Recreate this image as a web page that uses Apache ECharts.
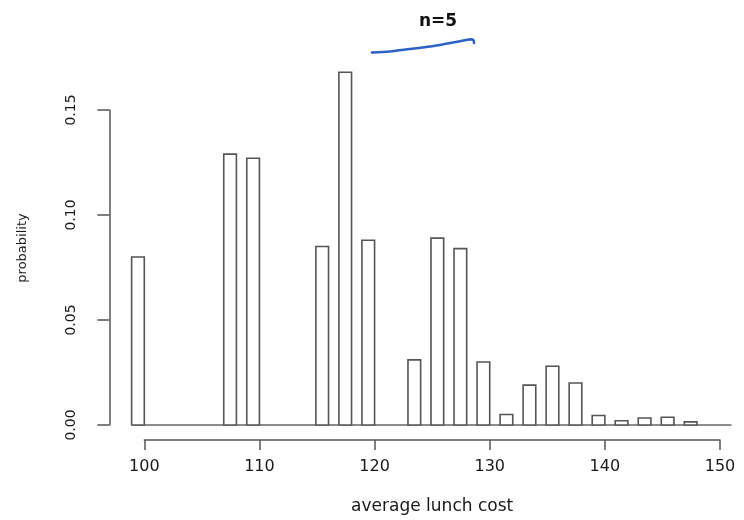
<!DOCTYPE html>
<html>
<head>
<meta charset="utf-8">
<script src="https://cdn.jsdelivr.net/npm/echarts@6/dist/echarts.min.js"></script>
<style>
html,body{margin:0;padding:0;background:#fff;}
#chart{width:744px;height:520px;}
</style>
</head>
<body>
<div id="chart"></div>
<script>
// Data
var costs = [100, 108, 110, 116, 118, 120, 124, 126, 128, 130, 132, 134, 136, 138, 140, 142, 144, 146, 148];
var probs = [0.080, 0.129, 0.127, 0.085, 0.168, 0.088, 0.031, 0.089, 0.084, 0.030, 0.005, 0.019, 0.028, 0.020, 0.0045, 0.002, 0.0033, 0.0037, 0.0015];
var xTicks = [100, 110, 120, 130, 140, 150];
var yTicks = [0.00, 0.05, 0.10, 0.15];
var baselineRange = [99, 151];
var barWidthUnits = 1.1;

var barData = costs.map(function (c, i) { return [c, probs[i]]; });

var chart = echarts.init(document.getElementById('chart'), null, {renderer: 'canvas'});
chart.setOption({
  backgroundColor: '#ffffff',
  animation: false,
  title: {
    text: 'n=5',
    left: 433,
    top: 8,
    textAlign: 'center',
    textStyle: {fontFamily: 'DejaVu Sans', fontSize: 17, fontWeight: 'bold', color: '#111'}
  },
  grid: {left: 144.3, right: 24, top: 110, bottom: 95, containLabel: false},
  xAxis: {
    type: 'value',
    min: xTicks[0],
    max: xTicks[xTicks.length - 1],
    interval: 10,
    offset: 15,
    name: 'average lunch cost',
    nameLocation: 'middle',
    nameGap: 58,
    nameTextStyle: {fontFamily: 'DejaVu Sans', fontSize: 17, color: '#1a1a1a'},
    axisLine: {show: true, onZero: false, lineStyle: {color: '#555', width: 1.5}},
    axisTick: {show: true, length: 10, lineStyle: {color: '#555', width: 1.5}},
    axisLabel: {margin: 19, fontFamily: 'DejaVu Sans', fontSize: 16, color: '#1a1a1a'},
    splitLine: {show: false}
  },
  yAxis: {
    type: 'value',
    min: yTicks[0],
    max: yTicks[yTicks.length - 1],
    interval: 0.05,
    offset: 35,
    axisLine: {show: true, onZero: false, lineStyle: {color: '#555', width: 1.5}},
    axisTick: {show: true, length: 12, lineStyle: {color: '#555', width: 1.5}},
    axisLabel: {
      rotate: 90, margin: 31,
      fontFamily: 'DejaVu Sans', fontSize: 14, color: '#1a1a1a',
      formatter: function (v) { return v.toFixed(2); }
    },
    splitLine: {show: false}
  },
  graphic: [
    {
      type: 'text',
      x: 23, y: 248,
      rotation: Math.PI / 2,
      style: {text: 'probability', fontFamily: 'DejaVu Sans', fontSize: 13, fill: '#1a1a1a', align: 'center', verticalAlign: 'middle'}
    },
    {
      type: 'polyline',
      shape: {points: [[372, 52.5], [390, 51.5], [410, 49], [430, 46.5], [446, 43.8], [460, 41.3], [470, 39.4], [473.5, 40.2], [474, 43]], smooth: 0.3},
      style: {stroke: '#2f62c6', lineWidth: 2.6, fill: null, lineCap: 'round'}
    }
  ],
  series: [
    {
      type: 'custom',
      clip: false,
      silent: true,
      data: [baselineRange],
      encode: {x: [0, 1]},
      z: 1,
      renderItem: function (params, api) {
        var a = api.coord([api.value(0), 0]);
        var b = api.coord([api.value(1), 0]);
        return {
          type: 'line',
          shape: {x1: a[0], y1: a[1], x2: b[0], y2: b[1]},
          style: {stroke: '#666', lineWidth: 1.5}
        };
      }
    },
    {
      type: 'custom',
      clip: false,
      data: barData,
      encode: {x: 0, y: 1},
      z: 2,
      renderItem: function (params, api) {
        var x = api.value(0), y = api.value(1);
        var tl = api.coord([x - barWidthUnits, y]);
        var br = api.coord([x, 0]);
        return {
          type: 'rect',
          shape: {x: tl[0], y: tl[1], width: br[0] - tl[0], height: br[1] - tl[1]},
          style: {fill: '#ffffff', stroke: '#555', lineWidth: 1.6}
        };
      }
    }
  ]
});
</script>
</body>
</html>
